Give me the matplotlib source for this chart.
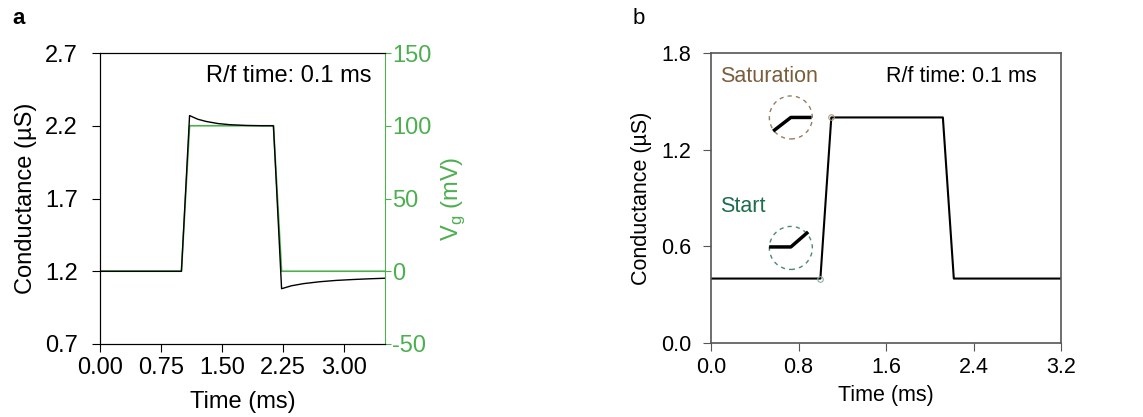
import numpy as np
import matplotlib
matplotlib.use("Agg")
import matplotlib.pyplot as plt
from matplotlib.patches import Ellipse

plt.rcParams['font.family'] = ['Liberation Sans', 'DejaVu Sans']
plt.rcParams['font.size'] = 17
plt.rcParams['axes.unicode_minus'] = False

# panel a: gate voltage pulse and conductance response
t_vg = [0.0, 1.0, 1.1, 2.13, 2.23, 3.5]
vg = [0, 0, 100, 100, 0, 0]
t_ga = [0.0, 1.0, 1.1, 1.2, 1.3, 1.45, 1.6, 1.8, 2.0, 2.13, 2.23, 2.35, 2.5, 2.7, 2.9, 3.1, 3.3, 3.5]
g_a = [1.2, 1.2, 2.27, 2.245, 2.23, 2.215, 2.207, 2.202, 2.2, 2.2, 1.08, 1.10, 1.115, 1.128, 1.137, 1.143, 1.148, 1.152]

# panel b: conductance with 0.1 ms rise/fall
t_gb = [0.0, 1.0, 1.1, 2.12, 2.22, 3.2]
g_b = [0.4, 0.4, 1.4, 1.4, 0.4, 0.4]

green = '#4caf50'
green_dark = '#1e6e4e'
brown = '#7a5e3c'
grey = '#555555'

fig = plt.figure(figsize=(11.43, 4.17), dpi=100)
ax = fig.add_axes([100/1143, 73/417, 285/1143, 291/417])
ax2 = ax.twinx()

ax.plot(t_ga, g_a, c='k', lw=1.0, zorder=3)
ax2.plot(t_vg, vg, c=green, lw=1.2)
ax.set_zorder(ax2.get_zorder() + 1)
ax.patch.set_visible(False)

ax.set_xlim(0, 3.5)
ax.set_ylim(0.7, 2.7)
ax.set_xticks([0, 0.75, 1.5, 2.25, 3.0])
ax.set_xticklabels(['0.00', '0.75', '1.50', '2.25', '3.00'])
ax.set_yticks([0.7, 1.2, 1.7, 2.2, 2.7])
ax2.set_ylim(-50, 150)
ax2.set_yticks([-50, 0, 50, 100, 150])
ax.set_xlabel('Time (ms)', labelpad=9)
ax.set_ylabel('Conductance (µS)', labelpad=6)
ax2.set_ylabel('V$_\\mathregular{g}$ (mV)', color=green, labelpad=6)
ax2.tick_params(axis='y', colors=green, direction='out', length=4, pad=1)
ax2.spines['right'].set_color(green)
ax.tick_params(axis='x', direction='out', length=6, pad=3)
ax.tick_params(axis='y', direction='out', length=6, pad=10)
for s in ['left', 'bottom', 'top']:
    ax.spines[s].set_color('k')
ax.spines['right'].set_visible(False)
ax.text(0.951, 0.92, 'R/f time: 0.1 ms', transform=ax.transAxes, ha='right', va='center')
fig.text(12/1143, 1 - 19/417, 'a', fontsize=16, fontweight='bold', va='center')

# panel b
fs = 15.5
bx = fig.add_axes([711/1143, 74/417, 350/1143, 290/417])
bx.plot(t_gb, g_b, c='k', lw=1.5)
bx.set_xlim(0, 3.2)
bx.set_ylim(0, 1.8)
bx.set_xticks([0, 0.8, 1.6, 2.4, 3.2])
bx.set_yticks([0, 0.6, 1.2, 1.8])
bx.set_xlabel('Time (ms)', labelpad=5, fontsize=fs)
bx.set_ylabel('Conductance (µS)', labelpad=7, fontsize=fs)
bx.tick_params(direction='out', length=6, color=grey, labelsize=fs)
bx.tick_params(axis='x', pad=4)
bx.tick_params(axis='y', pad=8)
for s in bx.spines.values():
    s.set_color(grey)
    s.set_linewidth(1.2)
bx.text(0.93, 0.92, 'R/f time: 0.1 ms', transform=bx.transAxes, ha='right', va='center', fontsize=fs)
bx.text(0.026, 0.92, 'Saturation', transform=bx.transAxes, ha='left', va='center', color=brown, fontsize=fs)
bx.text(0.026, 0.472, 'Start', transform=bx.transAxes, ha='left', va='center', color=green_dark, fontsize=fs)
fig.text(633/1143, 1 - 19/417, 'b', fontsize=16, va='center')

# tiny markers at the kinks
bx.plot(t_gb[1], g_b[1], 'o', ms=4, mfc='none', mec='#8fb0a0', mew=0.8, ls='none')
bx.plot(t_gb[2], g_b[2], 'o', ms=4, mfc='none', mec='#b09a80', mew=0.8, ls='none')

# zoomed views of the kinks
sx = 3.2 / 350
sy = 1.8 / 290
r = 21.5
insets = [
    ((0.73, 1.40), brown, [-17.7, 0, 20.7], [-13.7, 0, 0]),
    ((0.73, 0.59), green_dark, [-21.7, 0, 17.3], [1, 1, 16]),
]
for (cx, cy), col, dx, dy in insets:
    bx.add_patch(Ellipse((cx, cy), 2 * r * sx, 2 * r * sy, fill=False, ec=col,
                         ls=(0, (3, 3)), lw=1.0, alpha=0.8))
    bx.plot([cx + d * sx for d in dx], [cy + d * sy for d in dy], c='k', lw=2.5,
            solid_capstyle='butt')

fig.savefig('out.png', dpi=100)
